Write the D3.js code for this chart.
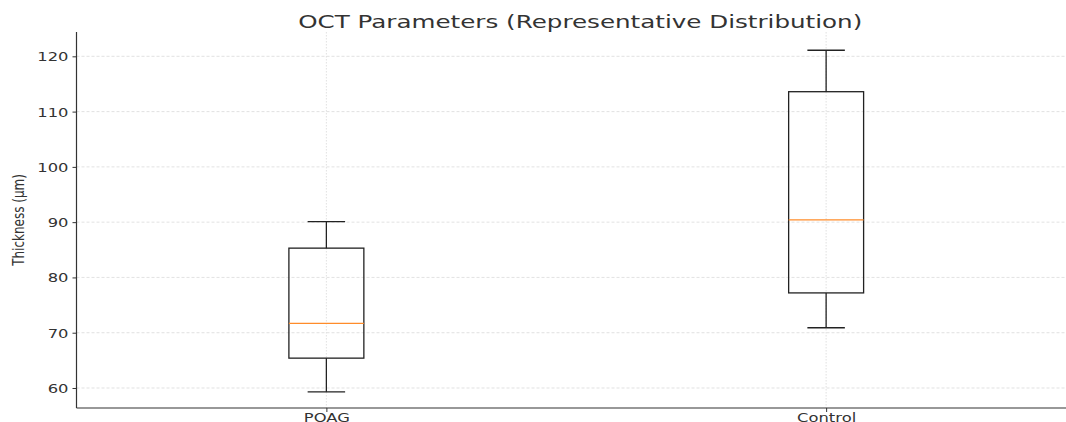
<!DOCTYPE html>
<html>
<head>
<meta charset="utf-8">
<script src="https://cdn.jsdelivr.net/npm/d3@7"></script>
<style>
  html, body { margin: 0; padding: 0; background: #fff; }
  svg { display: block; }
  text { font-family: "DejaVu Sans", sans-serif; fill: #333; }
</style>
</head>
<body>
<svg id="chart" width="1066" height="422"></svg>
<script>
// Box-plot summaries for each group (µm)
const groups = ["POAG", "Control"];
const whiskerLow  = [59.3, 70.9];
const q1          = [65.4, 77.2];
const medians     = [71.7, 90.4];
const q3          = [85.3, 113.6];
const whiskerHigh = [90.1, 121.1];
const yTicks = [60, 70, 80, 90, 100, 110, 120];

const title = "OCT Parameters (Representative Distribution)";
const yLabel = "Thickness (\u00b5m)";

const W = 1066, H = 422;
const margin = { left: 76.5, top: 32, bottom: 408, right: 1076 };
const sx = 1.33; // horizontal text stretch

const svg = d3.select("#chart");

const x = d3.scaleLinear().domain([0.5, 2.5]).range([margin.left, margin.right]);
const y = d3.scaleLinear().domain([56.38, 124.4]).range([margin.bottom, margin.top]);

// grid
const grid = svg.append("g");
grid.selectAll("line.h").data(yTicks).join("line")
  .attr("x1", margin.left).attr("x2", W)
  .attr("y1", d => y(d)).attr("y2", d => y(d))
  .attr("stroke", "#d9d9d9").attr("stroke-width", 0.8).attr("stroke-dasharray", "3,2");
grid.selectAll("line.v").data(groups).join("line")
  .attr("x1", (d, i) => x(i + 1)).attr("x2", (d, i) => x(i + 1))
  .attr("y1", margin.top).attr("y2", margin.bottom)
  .attr("stroke", "#d9d9d9").attr("stroke-width", 0.8).attr("stroke-dasharray", "1.5,1.5");

// boxes
const boxW = 0.15, capW = 0.075;
const data = groups.map((g, i) => ({
  pos: i + 1, lo: whiskerLow[i], q1: q1[i], med: medians[i], q3: q3[i], hi: whiskerHigh[i]
}));
const bx = svg.append("g").selectAll("g").data(data).join("g");
const dark = "#222";
bx.append("line")
  .attr("x1", d => x(d.pos)).attr("x2", d => x(d.pos))
  .attr("y1", d => y(d.q3)).attr("y2", d => y(d.hi))
  .attr("stroke", dark).attr("stroke-width", 1.3);
bx.append("line")
  .attr("x1", d => x(d.pos)).attr("x2", d => x(d.pos))
  .attr("y1", d => y(d.lo)).attr("y2", d => y(d.q1))
  .attr("stroke", dark).attr("stroke-width", 1.3);
bx.append("line")
  .attr("x1", d => x(d.pos - capW / 2)).attr("x2", d => x(d.pos + capW / 2))
  .attr("y1", d => y(d.hi)).attr("y2", d => y(d.hi))
  .attr("stroke", dark).attr("stroke-width", 1.3);
bx.append("line")
  .attr("x1", d => x(d.pos - capW / 2)).attr("x2", d => x(d.pos + capW / 2))
  .attr("y1", d => y(d.lo)).attr("y2", d => y(d.lo))
  .attr("stroke", dark).attr("stroke-width", 1.3);
bx.append("rect")
  .attr("x", d => x(d.pos - boxW / 2))
  .attr("width", d => x(d.pos + boxW / 2) - x(d.pos - boxW / 2))
  .attr("y", d => y(d.q3))
  .attr("height", d => y(d.q1) - y(d.q3))
  .attr("fill", "none").attr("stroke", dark).attr("stroke-width", 1.3);
bx.append("line")
  .attr("x1", d => x(d.pos - boxW / 2)).attr("x2", d => x(d.pos + boxW / 2))
  .attr("y1", d => y(d.med)).attr("y2", d => y(d.med))
  .attr("stroke", "#ff8c2a").attr("stroke-width", 1.2);

// axes (spines + ticks)
const yAxis = d3.axisLeft(y).tickValues(yTicks).tickSize(4).tickFormat(d3.format("d"));
const gy = svg.append("g").attr("transform", `translate(${margin.left},0)`).call(yAxis);
gy.select(".domain").attr("d", `M0,${margin.top}V${margin.bottom}`).attr("stroke", "#333").attr("stroke-width", 1.2);
gy.selectAll(".tick line").attr("stroke", "#333");
gy.selectAll(".tick text")
  .attr("font-size", 12.3).attr("fill", "#333").attr("x", null).attr("dy", null)
  .attr("text-anchor", "end")
  .attr("transform", `translate(-8,4.5) scale(${sx},1)`);

const xAxis = d3.axisBottom(x).tickValues([1, 2]).tickSize(4).tickFormat((d) => groups[d - 1]);
const gx = svg.append("g").attr("transform", `translate(0,${margin.bottom})`).call(xAxis);
gx.select(".domain").attr("d", `M${margin.left},0H${W}`).attr("stroke", "#333").attr("stroke-width", 1.2);
gx.selectAll(".tick line").attr("stroke", "#333");
gx.selectAll(".tick text")
  .attr("font-size", 12.3).attr("fill", "#333").attr("y", null).attr("dy", null)
  .attr("text-anchor", "middle")
  .attr("transform", `translate(0,13.5) scale(${sx},1)`);

// title
svg.append("text")
  .attr("text-anchor", "middle")
  .attr("font-size", 18.5)
  .attr("fill", "#333")
  .attr("transform", `translate(${(margin.left + margin.right) / 2 + 4},28) scale(${sx},1)`)
  .text(title);

// y label
svg.append("text")
  .attr("text-anchor", "middle")
  .attr("font-size", 12)
  .attr("fill", "#333")
  .attr("transform", `translate(24,220) scale(${sx},1) rotate(-90)`)
  .text(yLabel);
</script>
</body>
</html>
